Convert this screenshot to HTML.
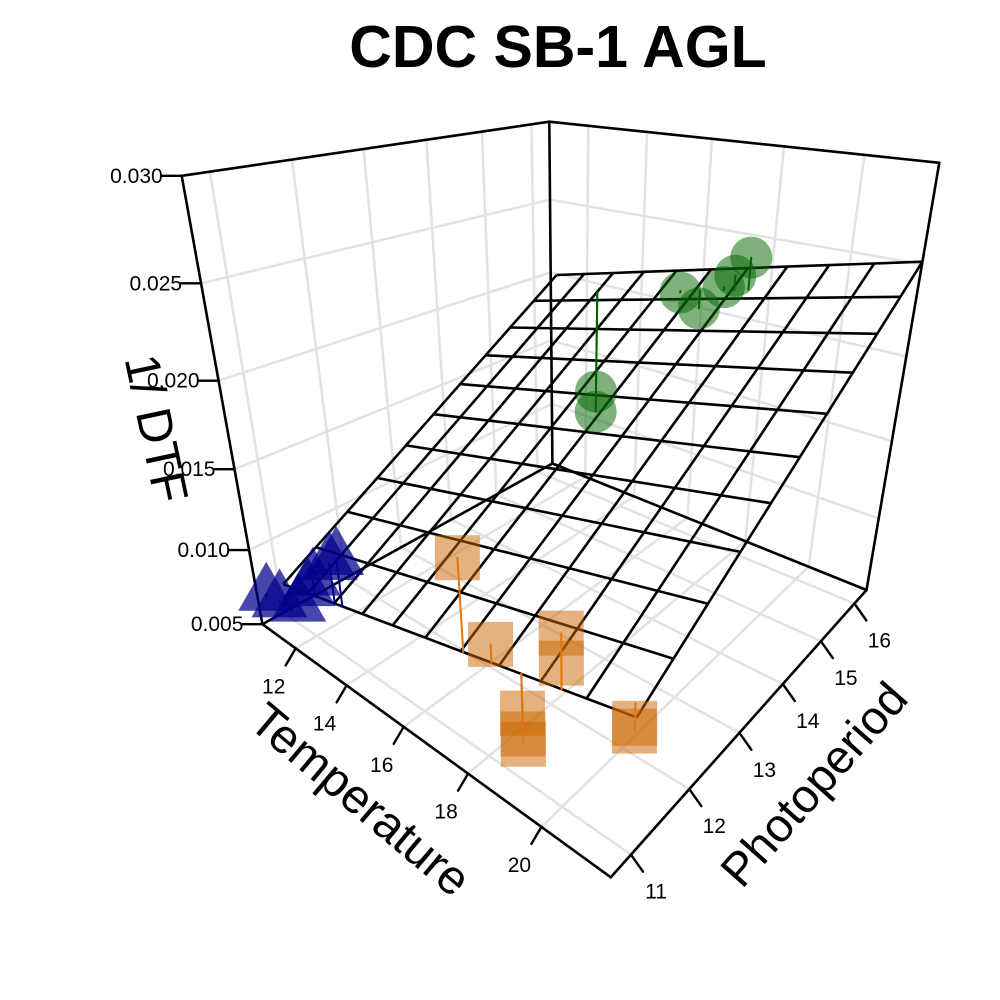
<!DOCTYPE html>
<html><head><meta charset="utf-8">
<style>
html,body{margin:0;padding:0;background:#fff;}
svg{display:block;font-family:"Liberation Sans",Arial,sans-serif;}
</style></head>
<body>
<svg id="chart" width="1000" height="1000" viewBox="0 0 1000 1000">
<text x="558" y="67" text-anchor="middle" font-size="59" font-weight="bold">CDC SB-1 AGL</text>
<g id="grid"></g>
<g id="box"></g>
<g id="surface"></g>
<g id="points"></g>
<g id="resid"></g>
<g id="axes"></g>
<text transform="translate(140,432) rotate(78)" text-anchor="middle" font-size="49">1/ DTF</text>
<text transform="translate(350,812) rotate(40)" text-anchor="middle" font-size="48">Temperature</text>
<text transform="translate(826,795) rotate(-48.5)" text-anchor="middle" font-size="47">Photoperiod</text>
</svg>
<script>
// ---- data ----
const tempTicks = [12, 14, 16, 18, 20];
const photoTicks = [11, 12, 13, 14, 15, 16];
const zTicks = [0.005, 0.010, 0.015, 0.020, 0.025, 0.030];
const zTickLabels = ["0.005", "0.010", "0.015", "0.020", "0.025", "0.030"];
const tempRange = [10.56, 21.67];
const photoRange = [10.69, 16.39];
const zRange = [0.005, 0.030];
// green circles
const greenTemp  = [17.8, 17.4, 16.4, 15.8, 17.1, 13.0, 13.0];
const greenPhoto = [16, 16, 16, 16, 16, 16, 16];
const greenDTF   = [0.0242, 0.0230, 0.0206, 0.0213, 0.0222, 0.0131, 0.0116];
// blue triangles
const blueTemp  = [10.6, 11.2, 11.9, 12.2, 13.0, 13.3, 11.7];
const bluePhoto = [10.8, 10.8, 11, 11, 11, 11, 10.9];
const blueDTF   = [0.0068, 0.0070, 0.0080, 0.0090, 0.0108, 0.0114, 0.0070];
// orange squares
const orangeTemp  = [17.4, 18.2, 20.0, 20.0, 19.0, 19.0, 19.0, 21.5, 21.5];
const orangePhoto = [11.0, 11.0, 11.0, 11.0, 11.0, 11.0, 11.0, 11.1, 11.1];
const orangeDTF   = [0.0155, 0.0118, 0.0145, 0.0130, 0.0072, 0.0078, 0.0090, 0.0116, 0.0112];
// fitted plane: z = c0 + cT*(T-10.56) + cP*(P-10.69)
const surfaceCoef = [0.0064, 0.00048, 0.00235];
const surfaceTemp = [10.8, 21.67];
const surfacePhoto = [11.0, 16.39];

// ---- projection calibration (box corners in normalized coords -> screen) ----
const calib = [
 [0,0,0,263,625],[1,0,0,610,877],[1,1,0,867,590],[0,1,0,552,463],
 [0,0,1,181.7,175],[1,1,1,939.3,163],[0,1,1,549.3,122]
];
function solveDLT(){
  const A=[],b=[];
  calib.forEach(c=>{const[u,v,w,x,y]=c;
    A.push([u,v,w,1,0,0,0,0,-x*u,-x*v,-x*w]);b.push(x);
    A.push([0,0,0,0,u,v,w,1,-y*u,-y*v,-y*w]);b.push(y);});
  const n=11,M=[];
  for(let i=0;i<n;i++){M.push([]);for(let j=0;j<=n;j++){let s=0;
    for(let k=0;k<A.length;k++)s+=A[k][i]*(j<n?A[k][j]:b[k]);M[i].push(s);}}
  for(let i=0;i<n;i++){let p=i;for(let r=i+1;r<n;r++)if(Math.abs(M[r][i])>Math.abs(M[p][i]))p=r;
    [M[i],M[p]]=[M[p],M[i]];
    for(let r=0;r<n;r++){if(r===i)continue;const f=M[r][i]/M[i][i];for(let j=i;j<=n;j++)M[r][j]-=f*M[i][j];}}
  return M.map((r,i)=>r[n]/r[i]);
}
const P=solveDLT();
function projN(u,v,w){const d=P[8]*u+P[9]*v+P[10]*w+1;
  return [(P[0]*u+P[1]*v+P[2]*w+P[3])/d,(P[4]*u+P[5]*v+P[6]*w+P[7])/d];}
function uT(t){return (t-tempRange[0])/(tempRange[1]-tempRange[0]);}
function vP(p){return (p-photoRange[0])/(photoRange[1]-photoRange[0]);}
function wZ(z){return (z-zRange[0])/(zRange[1]-zRange[0]);}
function proj(t,p,z){return projN(uT(t),vP(p),wZ(z));}
function surfZ(t,p){return surfaceCoef[0]+surfaceCoef[1]*(t-10.56)+surfaceCoef[2]*(p-10.69);}

const NS="http://www.w3.org/2000/svg";
function line(g,a,b,stroke,sw,name){const l=document.createElementNS(NS,"line");
  l.setAttribute("x1",a[0].toFixed(1));l.setAttribute("y1",a[1].toFixed(1));
  l.setAttribute("x2",b[0].toFixed(1));l.setAttribute("y2",b[1].toFixed(1));
  l.setAttribute("stroke",stroke);l.setAttribute("stroke-width",sw);l.setAttribute("stroke-linecap","round");
  
  
  g.appendChild(l);return l;}
const [T0,T1]=tempRange,[P0,P1]=photoRange,[Z0,Z1]=zRange;
const grid=document.getElementById("grid"),GC="#e2e2e2";
tempTicks.forEach(t=>line(grid,proj(t,P0,Z0),proj(t,P1,Z0),GC,2.5,"floor-grid-temp"));
photoTicks.forEach(p=>line(grid,proj(T0,p,Z0),proj(T1,p,Z0),GC,2.5,"floor-grid-photo"));
zTicks.forEach(z=>line(grid,proj(T0,P0,z),proj(T0,P1,z),GC,2.5,"left-wall-grid-z"));
photoTicks.forEach(p=>line(grid,proj(T0,p,Z0),proj(T0,p,Z1),GC,2.5,"left-wall-grid-photo"));
zTicks.forEach(z=>line(grid,proj(T0,P1,z),proj(T1,P1,z),GC,2.5,"back-wall-grid-z"));
tempTicks.forEach(t=>line(grid,proj(t,P1,Z0),proj(t,P1,Z1),GC,2.5,"back-wall-grid-temp"));
const box=document.getElementById("box");
const C=(a,b,c)=>projN(a,b,c);
[[[0,0,1],[0,1,1]],[[0,1,1],[1,1,1]],[[0,0,0],[0,0,1]],[[0,1,0],[0,1,1]],[[1,1,0],[1,1,1]],
 [[0,0,0],[0,1,0]],[[0,1,0],[1,1,0]],[[0,0,0],[1,0,0]],[[1,0,0],[1,1,0]]]
 .forEach(e=>line(box,C(...e[0]),C(...e[1]),"#000",2.6,"box-edge"));
const surf=document.getElementById("surface"),NG=10;
for(let i=0;i<=NG;i++){
  const t=surfaceTemp[0]+(surfaceTemp[1]-surfaceTemp[0])*i/NG;
  const pts=[];for(let j=0;j<=NG;j++){const p=surfacePhoto[0]+(surfacePhoto[1]-surfacePhoto[0])*j/NG;pts.push(proj(t,p,surfZ(t,p)));}
  const pl=document.createElementNS(NS,"polyline");pl.setAttribute("points",pts.map(q=>q[0].toFixed(1)+","+q[1].toFixed(1)).join(" "));
  pl.setAttribute("fill","none");pl.setAttribute("stroke","#000");pl.setAttribute("stroke-width","2.6");
  
  
  surf.appendChild(pl);
}
for(let j=0;j<=NG;j++){
  const p=surfacePhoto[0]+(surfacePhoto[1]-surfacePhoto[0])*j/NG;
  const pts=[];for(let i=0;i<=NG;i++){const t=surfaceTemp[0]+(surfaceTemp[1]-surfaceTemp[0])*i/NG;pts.push(proj(t,p,surfZ(t,p)));}
  const pl=document.createElementNS(NS,"polyline");pl.setAttribute("points",pts.map(q=>q[0].toFixed(1)+","+q[1].toFixed(1)).join(" "));
  pl.setAttribute("fill","none");pl.setAttribute("stroke","#000");pl.setAttribute("stroke-width","2.6");
  
  
  surf.appendChild(pl);
}
const pg=document.getElementById("points"),rg=document.getElementById("resid");
function resid(t,p,z,col){line(rg,proj(t,p,z),proj(t,p,surfZ(t,p)),col,2,"residual-line");}
greenTemp.forEach((t,i)=>{const q=proj(t,greenPhoto[i],greenDTF[i]);
  const c=document.createElementNS(NS,"circle");c.setAttribute("cx",q[0]);c.setAttribute("cy",q[1]);c.setAttribute("r",21);
  c.setAttribute("fill","#006400");c.setAttribute("fill-opacity","0.5");
  
  
  pg.appendChild(c);resid(t,greenPhoto[i],greenDTF[i],"#006400");});
blueTemp.forEach((t,i)=>{const q=proj(t,bluePhoto[i],blueDTF[i]);
  const s=document.createElementNS(NS,"polygon");
  s.setAttribute("points",`${q[0]},${q[1]-33} ${q[0]-28},${q[1]+16} ${q[0]+28},${q[1]+16}`);
  s.setAttribute("fill","#00008B");s.setAttribute("fill-opacity","0.72");
  
  
  pg.appendChild(s);resid(t,bluePhoto[i],blueDTF[i],"#00008B");});
orangeTemp.forEach((t,i)=>{const q=proj(t,orangePhoto[i],orangeDTF[i]);
  const s=document.createElementNS(NS,"rect");s.setAttribute("x",q[0]-22.5);s.setAttribute("y",q[1]-22.5);
  s.setAttribute("width",45);s.setAttribute("height",45);s.setAttribute("fill","#CC6600");s.setAttribute("fill-opacity","0.5");
  
  
  pg.appendChild(s);resid(t,orangePhoto[i],orangeDTF[i],"#DD7711");});
const ax=document.getElementById("axes");
function txt(x,y,s,anchor,name){const e=document.createElementNS(NS,"text");e.setAttribute("x",x.toFixed(1));e.setAttribute("y",y.toFixed(1));
  e.setAttribute("font-size","21");e.setAttribute("text-anchor",anchor);e.textContent=s;
  
  
  ax.appendChild(e);}
zTicks.forEach((z,i)=>{const q=proj(T0,P0,z);line(ax,q,[q[0]-20,q[1]],"#000",2.4,"z-tick");
  txt(q[0]-19,q[1]+7,zTickLabels[i],"end","z-tick-label");});
tempTicks.forEach(t=>{const q=proj(t,P0,Z0);line(ax,q,[q[0]-10,q[1]+17],"#000",2.4,"temp-tick");
  txt(q[0]-22,q[1]+45,String(t),"middle","temp-tick-label");});
photoTicks.forEach(p=>{const q=proj(T1,p,Z0);line(ax,q,[q[0]+12,q[1]+17],"#000",2.4,"photo-tick");
  txt(q[0]+25,q[1]+44,String(p),"middle","photo-tick-label");});
</script>
</body></html>
